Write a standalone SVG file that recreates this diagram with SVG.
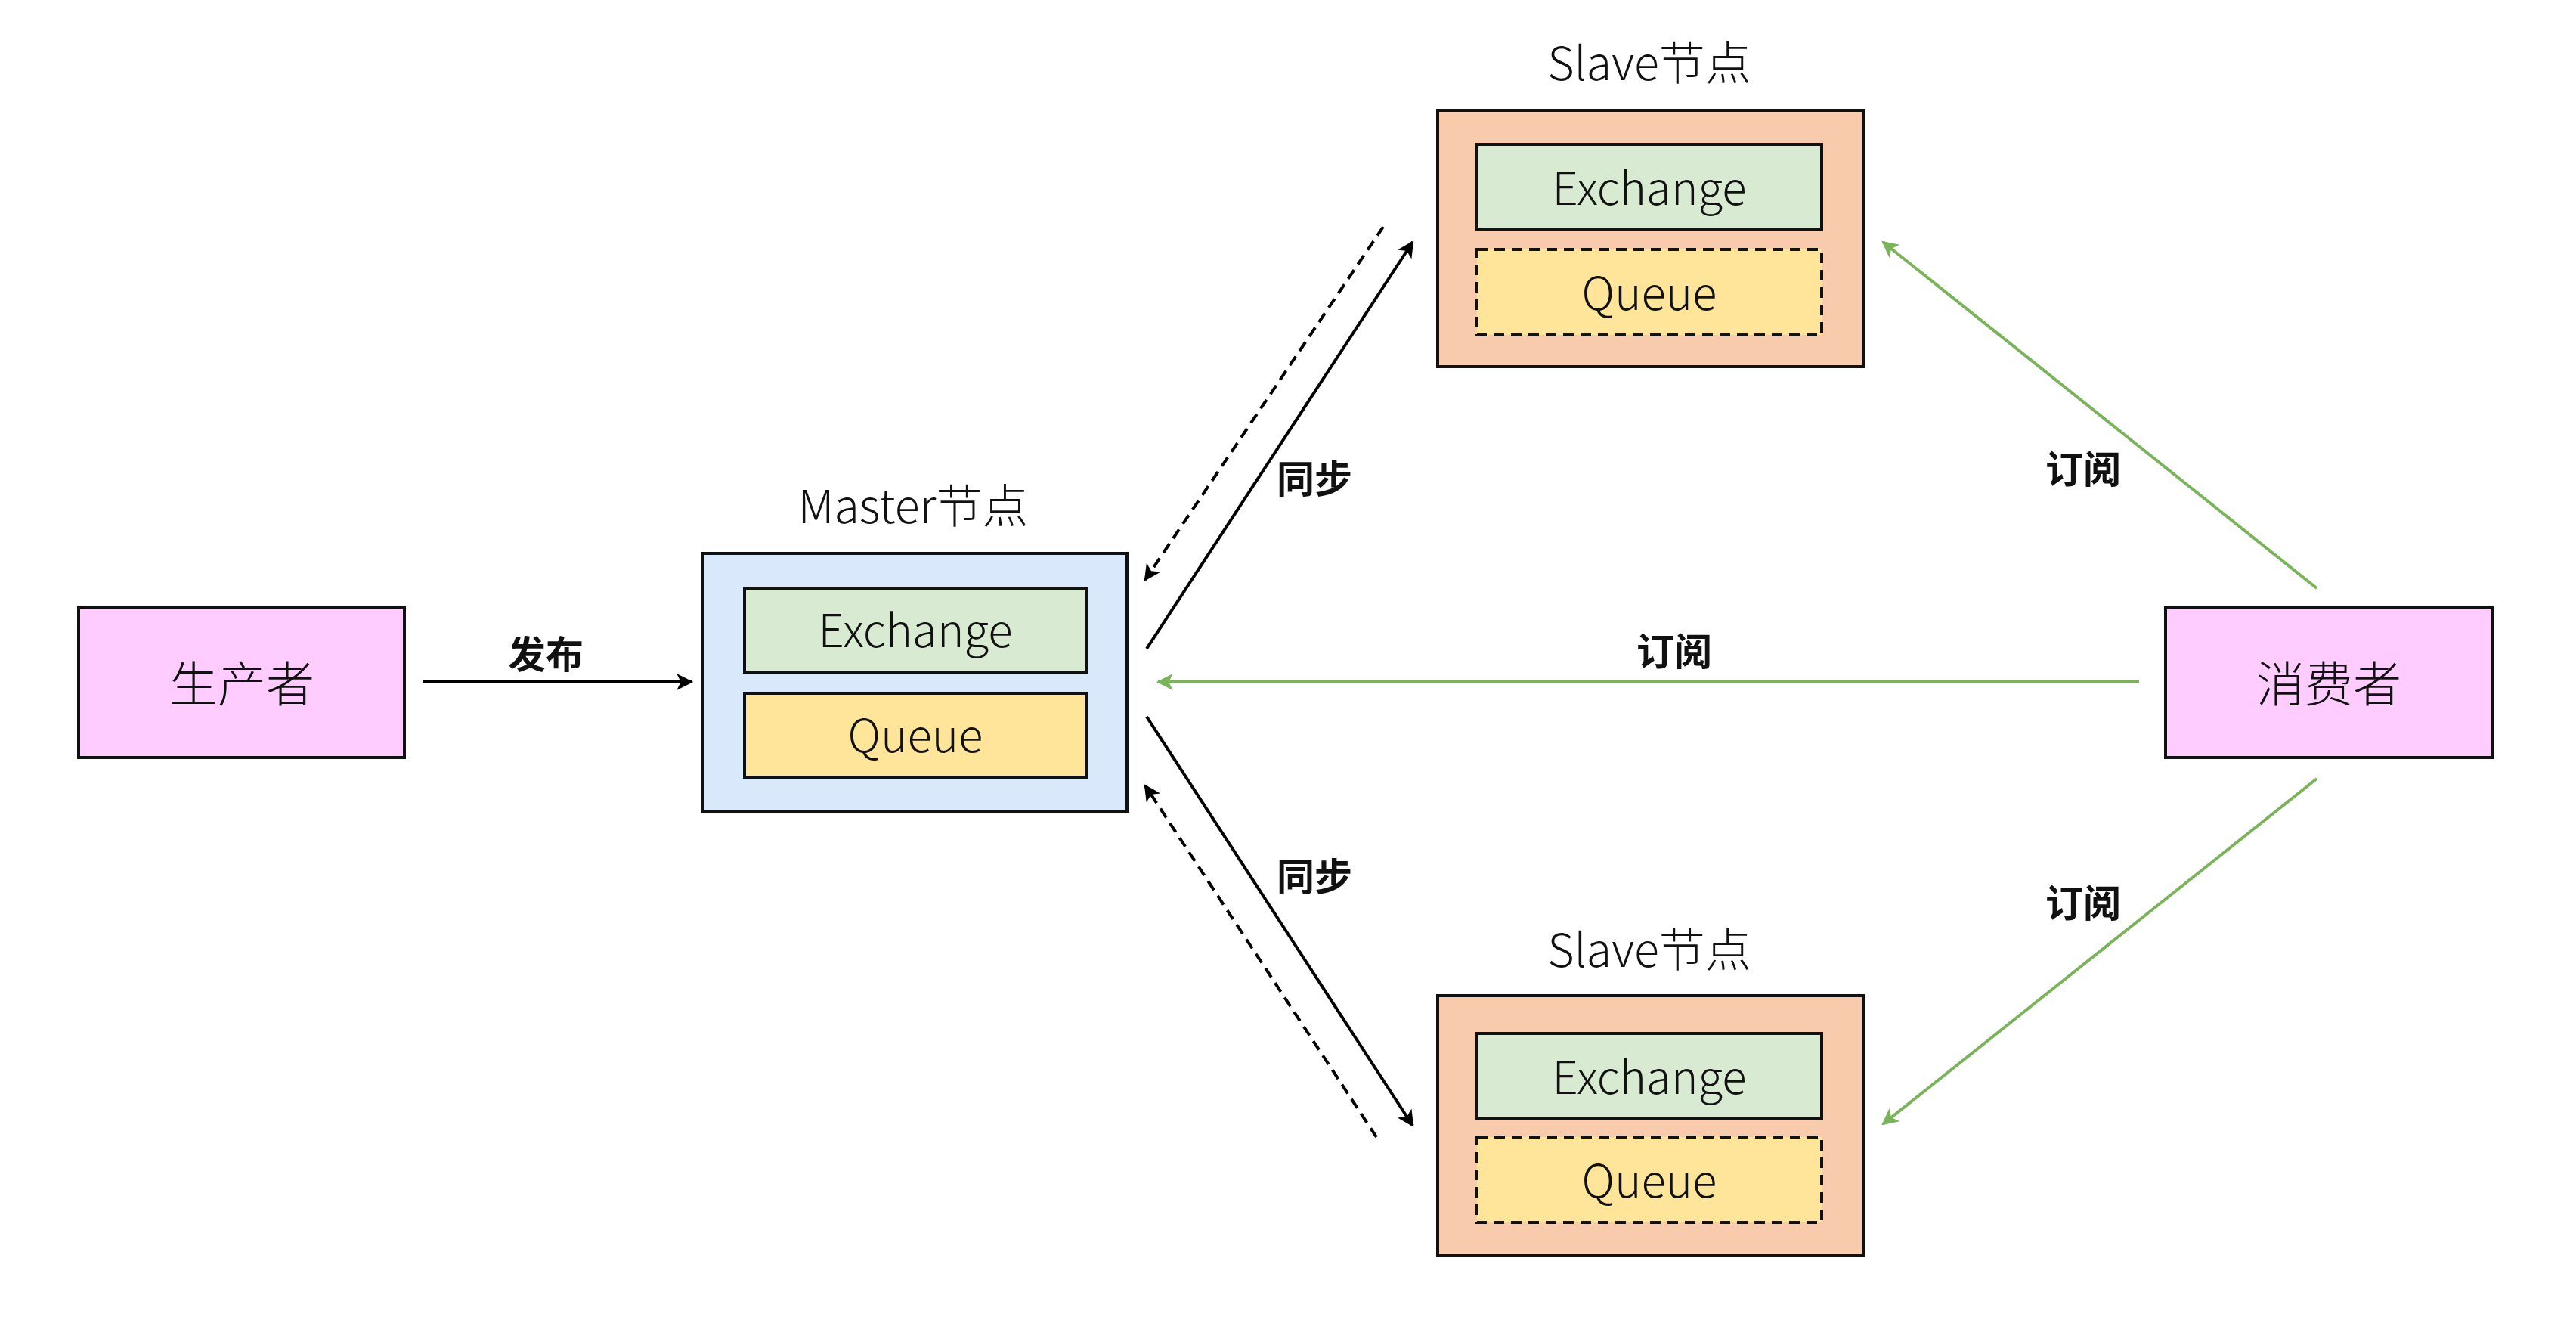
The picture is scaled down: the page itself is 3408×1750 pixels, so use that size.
<svg xmlns="http://www.w3.org/2000/svg" width="3408" height="1750" viewBox="0 0 3408 1750">
<style>
text{font-family:"Noto Sans CJK SC","Noto Sans",sans-serif;fill:#111;text-anchor:middle;dominant-baseline:central;font-weight:300}
.big{font-size:64px}
.box{font-size:60px}
.title{font-size:61px}
.lbl{font-size:50px;font-weight:bold}
.outer{stroke:#111;stroke-width:4}
.inner{stroke:#111;stroke-width:4}
.dash{stroke-dasharray:14 9}
.blk{stroke:#000;stroke-width:4;fill:none}
.grn{stroke:#7AB35A;stroke-width:4;fill:none}
</style>
<defs>
<marker id="ab" viewBox="0 0 10 10" refX="9" refY="5" markerWidth="28" markerHeight="22" markerUnits="userSpaceOnUse" orient="auto"><path d="M0,0 L10,5 L0,10 L2.5,5 z" fill="#000"/></marker>
<marker id="ag" viewBox="0 0 10 10" refX="9" refY="5" markerWidth="28" markerHeight="22" markerUnits="userSpaceOnUse" orient="auto"><path d="M0,0 L10,5 L0,10 L2.5,5 z" fill="#7AB35A"/></marker>
</defs>
<rect width="3408" height="1750" fill="#fff"/>
<g id="producer">
<rect class="outer" x="104" y="804" width="431" height="198" fill="#FFCCFF"/>
<text class="big" x="320" y="900">生产者</text>
</g>
<g id="master">
<text class="title" x="1208" y="665">Master节点</text>
<rect class="outer" x="930" y="732" width="561" height="342" fill="#DAE8FC"/>
<rect class="inner" x="985" y="778" width="452" height="111" fill="#D9EAD3"/>
<text class="box" x="1211" y="829">Exchange</text>
<rect class="inner" x="985" y="917" width="452" height="111" fill="#FFE599"/>
<text class="box" x="1211" y="968">Queue</text>
</g>
<g id="slave-top">
<text class="title" x="2182" y="79">Slave节点</text>
<rect class="outer" x="1902" y="146" width="563" height="339" fill="#F8CBAD"/>
<rect class="inner" x="1954" y="191" width="456" height="113" fill="#D9EAD3"/>
<text class="box" x="2182" y="244">Exchange</text>
<rect class="inner dash" x="1954" y="330" width="456" height="113" fill="#FFE599"/>
<text class="box" x="2182" y="383">Queue</text>
</g>
<g id="slave-bottom">
<text class="title" x="2182" y="1252">Slave节点</text>
<rect class="outer" x="1902" y="1317" width="563" height="344" fill="#F8CBAD"/>
<rect class="inner" x="1954" y="1367" width="456" height="113" fill="#D9EAD3"/>
<text class="box" x="2182" y="1420">Exchange</text>
<rect class="inner dash" x="1954" y="1504" width="456" height="113" fill="#FFE599"/>
<text class="box" x="2182" y="1557">Queue</text>
</g>
<g id="consumer">
<rect class="outer" x="2865" y="804" width="432" height="198" fill="#FFCCFF"/>
<text class="big" x="3081" y="900">消费者</text>
</g>
<g id="connectors">
<line class="blk" x1="559" y1="902" x2="915" y2="902" marker-end="url(#ab)"/>
<text class="lbl" x="722" y="862">发布</text>
<line class="blk" x1="1517" y1="858" x2="1869" y2="320" marker-end="url(#ab)"/>
<line class="blk dash" x1="1830" y1="300" x2="1515" y2="767" marker-end="url(#ab)"/>
<text class="lbl" x="1739" y="630">同步</text>
<line class="blk" x1="1517" y1="948" x2="1869" y2="1489" marker-end="url(#ab)"/>
<line class="blk dash" x1="1821" y1="1504" x2="1515" y2="1039" marker-end="url(#ab)"/>
<text class="lbl" x="1739" y="1156">同步</text>
<line class="grn" x1="2830" y1="902" x2="1532" y2="902" marker-end="url(#ag)"/>
<text class="lbl" x="2215" y="858">订阅</text>
<line class="grn" x1="3065" y1="778" x2="2491" y2="320" marker-end="url(#ag)"/>
<text class="lbl" x="2756" y="617">订阅</text>
<line class="grn" x1="3065" y1="1030" x2="2491" y2="1487" marker-end="url(#ag)"/>
<text class="lbl" x="2756" y="1191">订阅</text>
</g>
</svg>
